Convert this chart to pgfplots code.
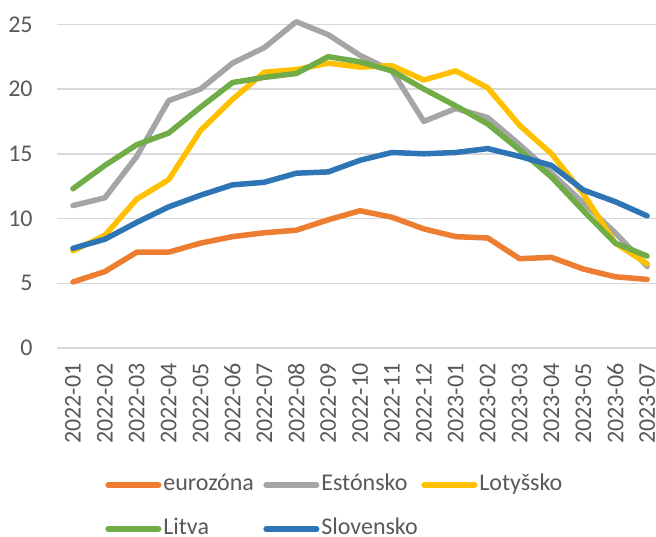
\documentclass[border=0pt]{standalone}
\usepackage{pgfplots}
\pgfplotsset{compat=1.18}
\usepackage{fontspec}
\setmainfont{Carlito}
\definecolor{cEuro}{HTML}{ED7D31}
\definecolor{cEst}{HTML}{A5A5A5}
\definecolor{cLot}{HTML}{FFC000}
\definecolor{cLit}{HTML}{70AD47}
\definecolor{cSlo}{HTML}{2E75B6}
\definecolor{cTxt}{HTML}{595959}
\definecolor{cGrid}{HTML}{D9D9D9}
\newcommand{\legtxt}[1]{\makebox[50pt][l]{#1}}
\begin{document}
\begin{tikzpicture}
\path[use as bounding box] (-28.5pt,-94pt) rectangle (299.5pt,174pt);
\begin{axis}[
  scale only axis,
  width=299.4pt, height=161.85pt,
  at={(0,0)}, anchor=south west,
  xmin=-0.5, xmax=18.27,
  ymin=0, ymax=25,
  axis line style={draw=none},
  clip=false,
  ytick={0,5,10,15,20,25},
  xtick={0,...,18},
  xticklabels={2022-01,2022-02,2022-03,2022-04,2022-05,2022-06,2022-07,2022-08,2022-09,2022-10,2022-11,2022-12,2023-01,2023-02,2023-03,2023-04,2023-05,2023-06,2023-07},
  major tick length=0pt,
  xtick pos=bottom, ytick pos=left,
  ymajorgrids,
  grid style={cGrid, line width=0.75pt},
  /pgf/number format/assume math mode=true,
  tick label style={font=\fontsize{12}{14}\selectfont, text=cTxt},
  yticklabel style={inner sep=0pt, xshift=-12pt},
  xticklabel style={rotate=90, anchor=east, inner sep=0pt, xshift=-7.5pt},
  every axis plot/.append style={line width=2.75pt, line join=round, line cap=round},
  legend columns=3,
  legend style={draw=none, fill=none, at={(0.0701,-0.3757)}, anchor=north west,
    font=\fontsize{12}{14}\selectfont, text=cTxt,
    nodes={inner sep=0pt, text height=8pt, text depth=3pt},
    row sep=11pt,
    /tikz/every odd column/.append style={column sep=1pt},
    /tikz/every even column/.append style={column sep=0pt}},
  legend image code/.code={\draw[#1, line cap=round] (0pt,0pt) -- (25.25pt,0pt);},
]
\addplot[cEuro] coordinates {(0,5.1)(1,5.9)(2,7.4)(3,7.4)(4,8.1)(5,8.6)(6,8.9)(7,9.1)(8,9.9)(9,10.6)(10,10.1)(11,9.2)(12,8.6)(13,8.5)(14,6.9)(15,7.0)(16,6.1)(17,5.5)(18,5.3)};
\addlegendentry{\legtxt{eurozóna}}
\addplot[cEst] coordinates {(0,11.0)(1,11.6)(2,14.8)(3,19.1)(4,20.0)(5,22.0)(6,23.2)(7,25.2)(8,24.2)(9,22.6)(10,21.4)(11,17.5)(12,18.5)(13,17.8)(14,15.7)(15,13.5)(16,11.2)(17,8.9)(18,6.3)};
\addlegendentry{\legtxt{Estónsko}}
\addplot[cLot] coordinates {(0,7.5)(1,8.7)(2,11.5)(3,13.0)(4,16.8)(5,19.2)(6,21.3)(7,21.5)(8,22.0)(9,21.7)(10,21.8)(11,20.7)(12,21.4)(13,20.1)(14,17.2)(15,15.0)(16,11.9)(17,8.1)(18,6.5)};
\addlegendentry{\legtxt{Lotyšsko}}
\addplot[cLit] coordinates {(0,12.3)(1,14.1)(2,15.7)(3,16.6)(4,18.6)(5,20.5)(6,20.9)(7,21.2)(8,22.5)(9,22.1)(10,21.4)(11,20.0)(12,18.7)(13,17.3)(14,15.3)(15,13.2)(16,10.6)(17,8.1)(18,7.1)};
\addlegendentry{\legtxt{Litva}}
\addplot[cSlo] coordinates {(0,7.7)(1,8.4)(2,9.7)(3,10.9)(4,11.8)(5,12.6)(6,12.8)(7,13.5)(8,13.6)(9,14.5)(10,15.1)(11,15.0)(12,15.1)(13,15.4)(14,14.8)(15,14.1)(16,12.2)(17,11.3)(18,10.2)};
\addlegendentry{\legtxt{Slovensko}}
\end{axis}
\end{tikzpicture}
\end{document}
